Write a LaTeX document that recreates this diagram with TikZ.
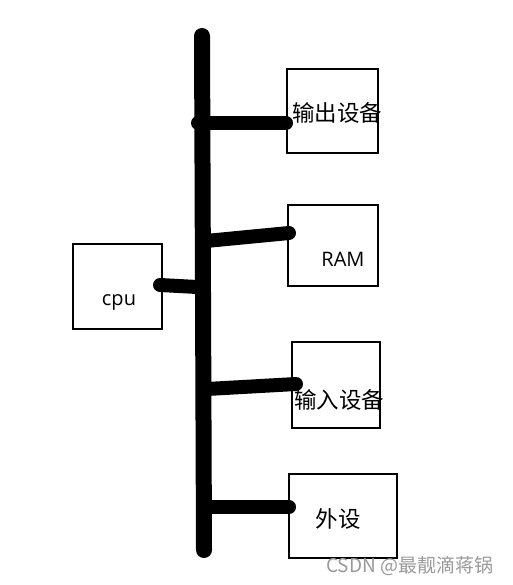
\documentclass[tikz,border=0pt]{standalone}
\usepackage{fontspec}
\setmainfont{Open Sans}
\newfontfamily\cjk{Noto Sans CJK SC}
\begin{document}
\begin{tikzpicture}[x=1pt,y=-1pt,
  box/.style={draw=black,line width=2.2pt,minimum width=#1,inner sep=0pt},
  cjklabel/.style={font=\cjk\fontsize{22.5}{26}\selectfont,inner sep=0pt},
  latlabel/.style={font=\fontsize{20}{24}\selectfont,inner sep=0pt},
  busline/.style={line width=16pt,line cap=round},
  link/.style={line width=14pt,line cap=round}]
\useasboundingbox (0,0) rectangle (512,585);
% boxes
\node[box=91pt,minimum height=84pt] (out) at (332.5,111) {};
\node[box=90pt,minimum height=81pt] (ram) at (333,245.5) {};
\node[box=89pt,minimum height=85pt] (cpu) at (117.5,286.5) {};
\node[box=88pt,minimum height=86pt] (in) at (336,385) {};
\node[box=108pt,minimum height=84pt] (ext) at (343,516) {};
% texts
\node[cjklabel] (outt) at (337,113) {输出设备};
\node[latlabel] (ramt) at (343,259) {RAM};
\node[latlabel,anchor=base] (cput) at (119,305) {cpu};
\node[cjklabel] (int) at (339,400) {输入设备};
\node[cjklabel] (extt) at (338,519) {外设};
% bus
\coordinate (top) at (202,36);
\coordinate (bot) at (204,550);
\draw[busline] (top) -- (bot);
% link endpoints
\coordinate (b1) at (198,123);
\coordinate (e1) at (286,123);
\coordinate (b2) at (206,241);
\coordinate (e2) at (289,233);
\coordinate (b3) at (197,287);
\coordinate (e3) at (160,285);
\coordinate (b4) at (207,389);
\coordinate (e4) at (296,384);
\coordinate (b5) at (207,507);
\coordinate (e5) at (289,507);
\draw[link] (b1) -- (e1);
\draw[link] (b2) -- (e2);
\draw[link] (b3) -- (e3);
\draw[link] (b4) -- (e4);
\draw[link] (b5) -- (e5);
% watermark
\node[font=\cjk\fontsize{19}{22}\selectfont,text=black!40,anchor=west,inner sep=0pt] (wm) at (326,566) {CSDN @最靓滴蒋锅};
\end{tikzpicture}
\end{document}
